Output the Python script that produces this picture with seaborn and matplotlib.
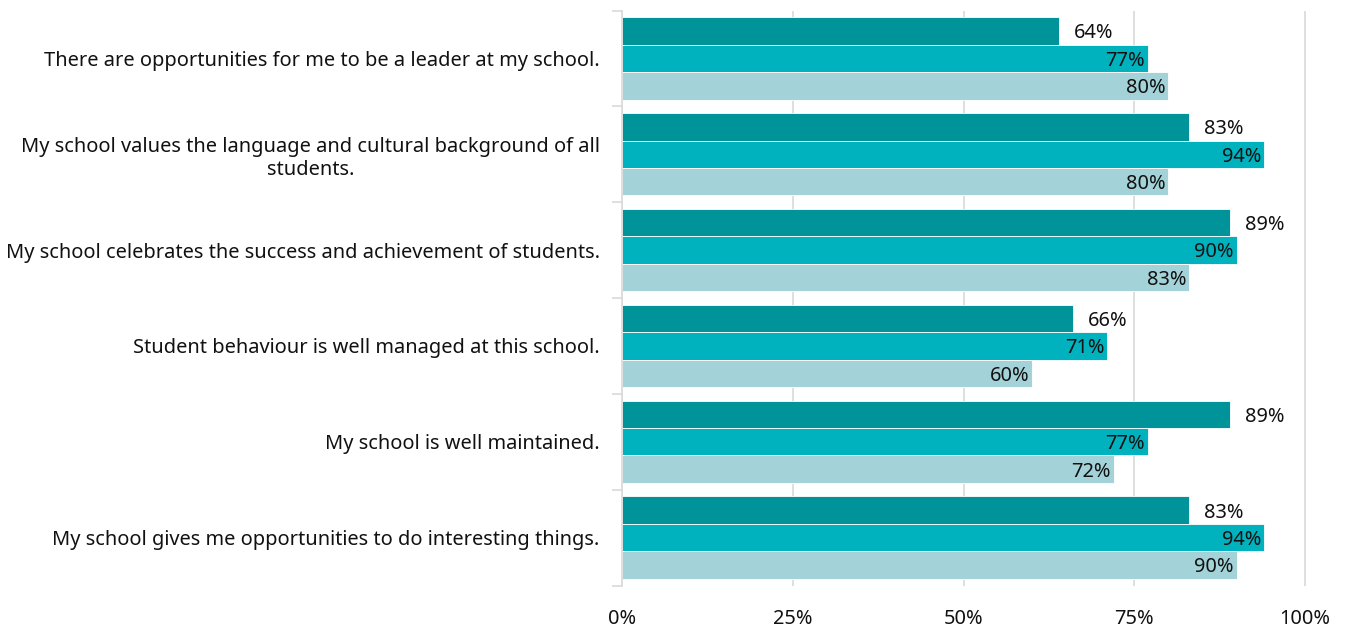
import matplotlib
matplotlib.use("Agg")
import matplotlib.pyplot as plt
import numpy as np
import pandas as pd
import seaborn as sns

statements = [
    "There are opportunities for me to be a leader at my school.",
    "My school values the language and cultural background of all\nstudents.",
    "My school celebrates the success and achievement of students.",
    "Student behaviour is well managed at this school.",
    "My school is well maintained.",
    "My school gives me opportunities to do interesting things.",
]
series_names = ["Series 1", "Series 2", "Series 3"]
series_1 = [64, 83, 89, 66, 89, 83]
series_2 = [77, 94, 90, 71, 77, 94]
series_3 = [80, 80, 83, 60, 72, 90]
colors = ["#009399", "#00B1BE", "#A3D3D8"]

rows = []
for name, vals in zip(series_names, [series_1, series_2, series_3]):
    for s, v in zip(statements, vals):
        rows.append({"statement": s, "series": name, "value": v / 100})
df = pd.DataFrame(rows)

sns.set_style("white")
plt.rcParams["font.family"] = ["Noto Sans", "DejaVu Sans"]
fs = 14.4

fig = plt.figure(figsize=(13.46, 6.28), dpi=100)
ax = fig.add_axes([622 / 1346, 1 - 585.5 / 628, 690 / 1346, 575 / 628])

sns.barplot(data=df, y="statement", x="value", hue="series", orient="h",
            palette=colors, saturation=1, width=0.86, edgecolor="white",
            linewidth=0.6, legend=False, ax=ax, errorbar=None, order=statements,
            hue_order=series_names)

# labels: first series outside end, others inside end (nudged down a touch)
for i, cont in enumerate(ax.containers):
    for b in cont:
        lab = "%d%%" % round(b.get_width() * 100)
        yc = b.get_y() + b.get_height() / 2 + 0.025
        if i == 0:
            ax.text(b.get_width() + 0.022, yc, lab, ha="left", va="center",
                    fontsize=fs, color="#111111")
        else:
            ax.text(b.get_width() - 0.004, yc, lab, ha="right", va="center",
                    fontsize=fs, color="#111111")

ax.set_xlim(0, 1.0102)
ax.set_ylim(5.5, -0.5)
ax.set_xticks([0, 0.25, 0.5, 0.75, 1.0])
ax.set_xticklabels(["0%", "25%", "50%", "75%", "100%"])
ax.grid(axis="x", color="#D9D9D9", linewidth=1.2)
ax.set_axisbelow(True)
ax.set_xlabel("")
ax.set_ylabel("")

for s in ["top", "right", "bottom"]:
    ax.spines[s].set_visible(False)
ax.spines["left"].set_color("#D9D9D9")
ax.spines["left"].set_linewidth(1.2)

ax.set_yticks(np.arange(-0.5, 6, 1), minor=True)
ax.tick_params(axis="y", which="major", left=True, length=0, pad=16,
               labelsize=fs, labelcolor="#111111")
ax.tick_params(axis="y", which="minor", left=True, length=7, width=1.2,
               color="#D9D9D9", direction="out")
ax.tick_params(axis="x", length=0, pad=17, labelsize=fs, labelcolor="#111111")
for t in ax.get_yticklabels():
    t.set_multialignment("center")

fig.savefig("out.png", dpi=100)
